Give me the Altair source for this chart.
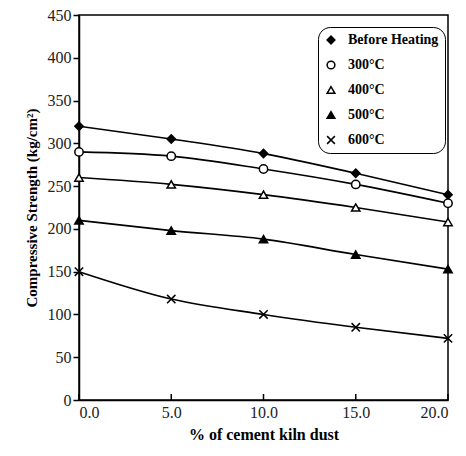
import altair as alt
import pandas as pd

x_vals = [0, 5, 10, 15, 20]
series_names = ["Before Heating", "300°C", "400°C", "500°C", "600°C"]
before = [320, 305, 288, 265, 240]
t300 = [290, 285, 270, 252, 230]
t400 = [260, 252, 240, 225, 208]
t500 = [210, 198, 188, 170, 153]
t600 = [150, 118, 100, 85, 72]
x_ticks = [0, 5, 10, 15, 20]

rows = []
for name, vals in zip(series_names, [before, t300, t400, t500, t600]):
    for xv, yv in zip(x_vals, vals):
        rows.append({"x": xv, "y": yv, "series": name})
df = pd.DataFrame(rows)
ticks_df = pd.DataFrame({"t": x_ticks, "y0": [0] * 5, "y1": [7] * 5})

FONT = "Liberation Serif"
xs = alt.Scale(domain=[0, 20], nice=False)
ys = alt.Scale(domain=[0, 450], nice=False)

common = dict(labelFont=FONT, titleFont=FONT, titleColor="black", labelColor="#222",
              domainColor="black", domainWidth=1.5, tickColor="black", tickWidth=1.5,
              grid=False, titleFontWeight="bold", labelFontSize=16)

X = alt.X("x:Q", scale=xs,
          axis=alt.Axis(values=x_ticks, format=".1f", title="% of cement kiln dust",
                        tickSize=0, labelPadding=4, titleFontSize=16, titlePadding=6,
                        **common))
Y = alt.Y("y:Q", scale=ys,
          axis=alt.Axis(values=list(range(0, 451, 50)), title="Compressive Strength (kg/cm²)",
                        tickSize=6, labelPadding=2, titleFontSize=15, titlePadding=8,
                        **common))

shape_scale = alt.Scale(domain=series_names,
                        range=["diamond", "circle", "triangle-up", "triangle-up",
                               "M-1,-1L1,1M1,-1L-1,1"])
fill_scale = alt.Scale(domain=series_names,
                       range=["black", "white", "white", "black", "black"])

lines = alt.Chart(df).mark_line(color="black", strokeWidth=1.6, interpolate="monotone").encode(
    x=X, y=Y, detail="series:N")

legend = alt.Legend(title=None, orient="none", legendX=239, legendY=12,
                    strokeColor="black", cornerRadius=12, padding=6,
                    labelFont=FONT, labelFontWeight="bold", labelFontSize=14,
                    labelColor="black", rowPadding=11, symbolStrokeWidth=1.5,
                    symbolSize=60, labelOffset=10)

points = alt.Chart(df).mark_point(filled=True, stroke="black", strokeWidth=1.5, size=70, opacity=1).encode(
    x=X, y=Y,
    shape=alt.Shape("series:N", scale=shape_scale, legend=legend, sort=series_names),
    fill=alt.Fill("series:N", scale=fill_scale, legend=legend, sort=series_names))

ticks = alt.Chart(ticks_df).mark_rule(color="black", strokeWidth=1.5).encode(
    x=alt.X("t:Q", scale=xs), y=alt.Y("y0:Q", scale=ys), y2="y1:Q")

chart = alt.layer(lines, ticks, points).properties(
    width=369, height=385,
    padding={"left": 79, "top": 15, "right": 18, "bottom": 56},
    autosize=alt.AutoSizeParams(type="none"),
    background="white",
).configure_view(stroke="black", strokeWidth=1.5)

chart.save("out.html", embed_options={"renderer": "svg", "actions": False})
